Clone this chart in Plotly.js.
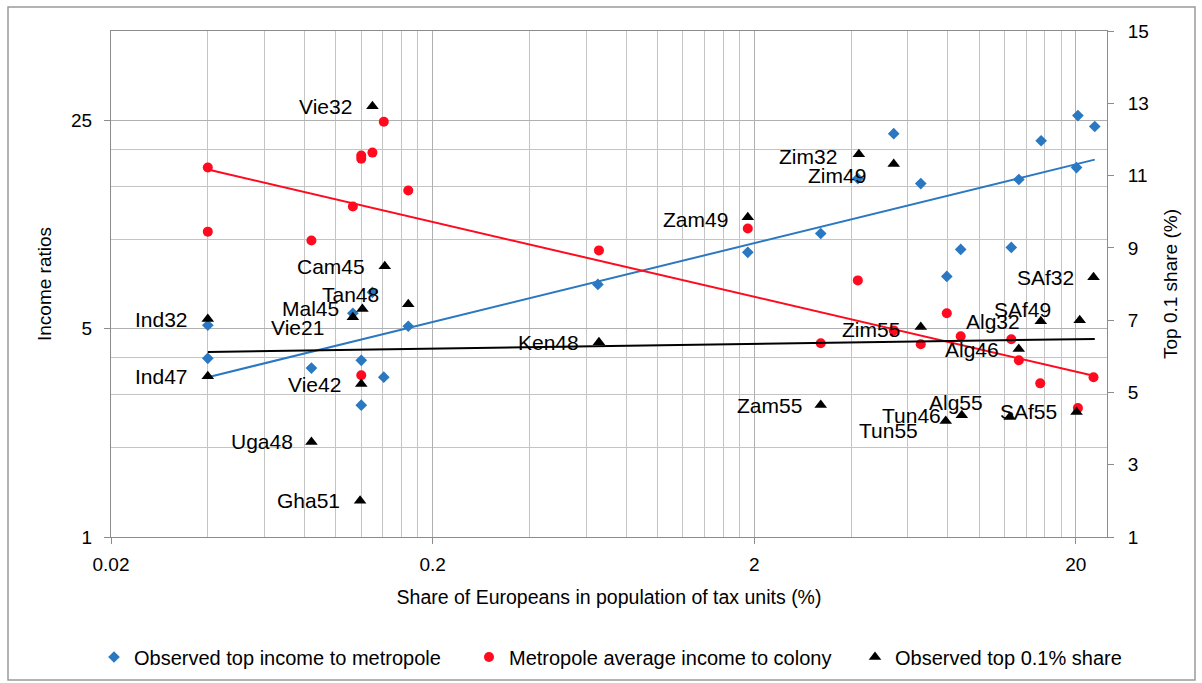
<!DOCTYPE html>
<html>
<head>
<meta charset="utf-8">
<script src="https://cdn.plot.ly/plotly-3.0.1.min.js"></script>
<style>
  html, body { margin: 0; padding: 0; background: #ffffff; }
  #chart { width: 1202px; height: 683px; }
</style>
</head>
<body>
<div id="chart"></div>
<script>
// ---------- data ----------
const xTickVals = [0.02, 0.2, 2, 20];
const xTickText = ['0.02', '0.2', '2', '20'];
const yTickVals = [1, 5, 25];
const y2TickVals = [1, 3, 5, 7, 9, 11, 13, 15];

// Observed top income to metropole (left axis)
const topIncomeX = [0.04, 0.04, 0.084, 0.12, 0.12, 0.141, 0.168, 0.113, 0.130, 0.653, 1.91, 3.22, 4.2, 5.43, 6.59, 7.94, 8.77, 12.6, 13.3, 15.6, 20.3, 20.1, 22.9];
const topIncomeY = [5.14, 3.98, 3.69, 3.92, 2.77, 3.44, 5.10, 5.64, 6.63, 7.05, 9.03, 10.45, 15.98, 22.6, 15.37, 7.50, 9.24, 9.38, 15.86, 21.4, 26.0, 17.4, 23.9];

// Metropole average income to colony (left axis)
const metroX = [0.04, 0.04, 0.084, 0.113, 0.12, 0.12, 0.13, 0.141, 0.168, 0.12, 0.658, 1.91, 3.22, 4.2, 5.43, 6.59, 7.94, 8.77, 12.6, 13.3, 15.5, 20.3, 22.7];
const metroY = [17.4, 10.6, 9.90, 12.87, 19.08, 18.64, 19.53, 24.8, 14.56, 3.49, 9.17, 10.86, 4.47, 7.27, 4.94, 4.44, 5.64, 4.72, 4.61, 3.92, 3.28, 2.71, 3.44];

// Observed top 0.1% share (right axis)
const shareLabels = ['Ind32', 'Ind47', 'Uga48', 'Gha51', 'Vie42', 'Vie21', 'Mal45', 'Tan48', 'Cam45', 'Vie32', 'Ken48', 'Zam49', 'Zam55', 'Zim32', 'Zim49', 'Zim55', 'Tun55', 'Tun46', 'Alg55', 'Alg46', 'Alg32', 'SAf49', 'SAf32', 'SAf55'];
const shareX = [0.04, 0.04, 0.084, 0.119, 0.12, 0.113, 0.121, 0.168, 0.142, 0.130, 0.658, 1.91, 3.22, 4.23, 5.43, 6.59, 7.88, 8.84, 12.46, 13.29, 15.56, 20.56, 22.7, 20.1];
const shareY = [7.03, 5.45, 3.63, 2.0, 5.23, 7.08, 7.31, 7.44, 8.49, 12.92, 6.39, 9.85, 4.65, 11.59, 11.32, 6.81, 4.21, 4.37, 4.32, 6.20, 6.97, 7.0, 8.19, 4.46];

// Trend lines (end points)
const trendX = [0.04, 22.9];
const topIncomeTrend = [3.44, 18.5];
const metroTrend = [17.13, 3.47];
const shareTrend = [6.12, 6.48];

// ---------- label placement (pixel offsets, style only) ----------
const labelDX = [-20, -20, -18, -20, -20, -29, -23, -29, -20, -20, -20, -20, -19, -22, -28, -21, -28, -21, -27, -20, -21, -29, -20, -20];
const labelDY = [0, 0, 0, 0, 0, 10, 0, -10, 0, 0, 0, 2, 0, 2, 11, 2, 10, 0, -15, 0, 0, -11, 0, 0];

const FONT = 'Liberation Sans, Arial, sans-serif';
const BLUE = '#2a78c2';
const RED = '#ff0a1e';
const GRID = '#c4c4c4';
const GRID_MAJOR = '#b0b0b0';
const AXIS = '#8c8c8c';

function minorLogVals(lo, hi) {
  const out = [];
  for (let base = lo; base < hi; base *= 10) {
    for (let k = 2; k <= 9; k++) out.push(+(base * k).toPrecision(6));
  }
  return out;
}

const traces = [
  { x: trendX, y: topIncomeTrend, mode: 'lines', line: { color: BLUE, width: 2 }, showlegend: false, hoverinfo: 'skip' },
  { x: trendX, y: metroTrend, mode: 'lines', line: { color: RED, width: 2 }, showlegend: false, hoverinfo: 'skip' },
  { x: topIncomeX, y: topIncomeY, mode: 'markers', name: 'Observed top income to metropole', legend: 'legend',
    marker: { symbol: 'diamond', size: 9, color: BLUE } },
  { x: metroX, y: metroY, mode: 'markers', name: 'Metropole average income to colony', legend: 'legend2',
    marker: { symbol: 'circle', size: 10, color: RED } },
  { x: trendX, y: shareTrend, yaxis: 'y2', mode: 'lines', line: { color: '#000000', width: 2 }, showlegend: false, hoverinfo: 'skip' },
  { x: shareX, y: shareY, yaxis: 'y2', mode: 'markers', name: 'Observed top 0.1% share', legend: 'legend3',
    marker: { symbol: 'triangle-up', size: 11, color: '#000000' } }
];

const annotations = shareLabels.map((t, i) => ({
  x: Math.log10(shareX[i]), y: shareY[i], xref: 'x', yref: 'y2',
  text: t, showarrow: false, xanchor: 'right', yanchor: 'middle',
  xshift: labelDX[i] + 2, yshift: -labelDY[i],
  font: { family: FONT, size: 21, color: '#000000' }
}));

const plotL = 111, plotR = 1107, plotT = 31, plotB = 537;
const pw = plotR - plotL, ph = plotB - plotT;
const px = v => (v - plotL) / pw;
const py = v => (plotB - v) / ph;

function legendAt(leftPx) {
  return {
    orientation: 'h', x: px(leftPx), xanchor: 'left', y: py(657), yanchor: 'middle',
    font: { family: FONT, size: 20, color: '#000000' },
    bgcolor: 'rgba(0,0,0,0)', itemclick: false
  };
}

const layout = {
  width: 1202, height: 683,
  margin: { l: plotL, r: 1202 - plotR, t: plotT, b: 683 - plotB, autoexpand: false },
  paper_bgcolor: '#ffffff', plot_bgcolor: '#ffffff',
  font: { family: FONT, size: 19, color: '#000000' },
  xaxis: {
    type: 'log', range: [Math.log10(0.02), Math.log10(25)],
    tickmode: 'array', tickvals: xTickVals, ticktext: xTickText,
    ticks: 'outside', ticklen: 6, tickcolor: AXIS, ticklabelstandoff: 4,
    showgrid: true, gridcolor: GRID_MAJOR, gridwidth: 1,
    minor: { tickmode: 'array', tickvals: minorLogVals(0.02, 25), showgrid: true, gridcolor: GRID, ticks: '' },
    showline: true, linecolor: AXIS, linewidth: 1, mirror: true, zeroline: false,
    tickfont: { size: 19 },
    title: { text: 'Share of Europeans in population of tax units (%)', font: { size: 19.5 }, standoff: 16 }
  },
  yaxis: {
    type: 'log', range: [0, Math.log10(50)],
    tickmode: 'array', tickvals: yTickVals, ticktext: yTickVals.map(String),
    ticks: 'outside', ticklen: 6, tickcolor: AXIS, ticklabelstandoff: 8,
    showgrid: true, gridcolor: GRID_MAJOR,
    minor: { tickmode: 'array', tickvals: [2, 3, 4, 10, 15, 20], showgrid: true, gridcolor: GRID, ticks: '' },
    showline: true, linecolor: AXIS, zeroline: false,
    tickfont: { size: 19 },
    title: { text: 'Income ratios', font: { size: 19 }, standoff: 14 }
  },
  yaxis2: {
    overlaying: 'y', side: 'right', range: [1, 15],
    tickmode: 'array', tickvals: y2TickVals,
    ticks: 'outside', ticklen: 6, tickcolor: AXIS, ticklabelstandoff: 10,
    showgrid: false, showline: true, linecolor: AXIS, zeroline: false,
    tickfont: { size: 19 },
    title: { text: 'Top 0.1 share (%)', font: { size: 19 }, standoff: 15 }
  },
  legend: legendAt(94),
  legend2: legendAt(469),
  legend3: legendAt(855),
  shapes: [{
    type: 'rect', xref: 'paper', yref: 'paper',
    x0: px(8), x1: px(1195), y0: py(680), y1: py(7),
    line: { color: '#9a9a9a', width: 1.5 }, fillcolor: 'rgba(0,0,0,0)', layer: 'below'
  }],
  annotations: annotations,
  showlegend: true
};

Plotly.newPlot('chart', traces, layout, { displayModeBar: false, staticPlot: true });
</script>
</body>
</html>
